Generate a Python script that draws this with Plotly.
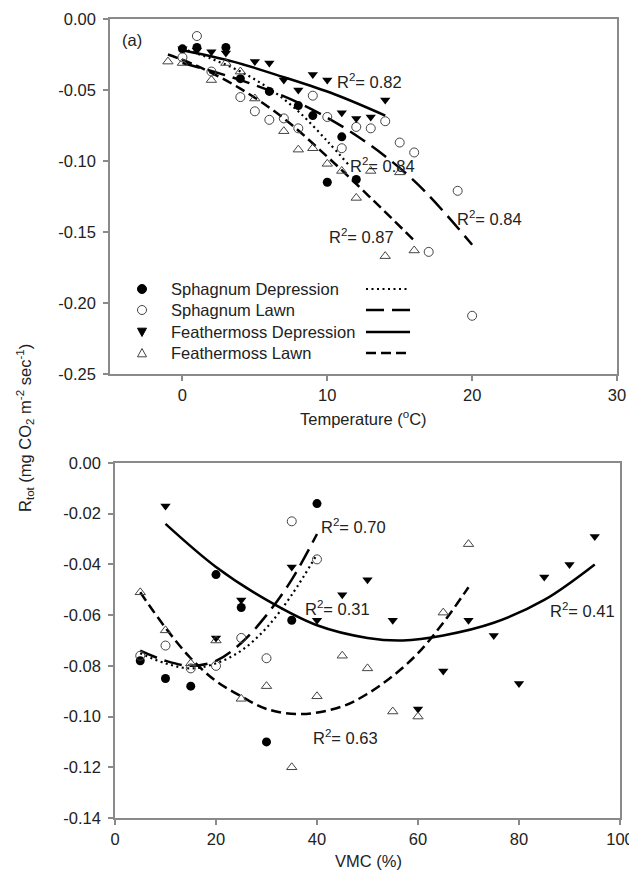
import plotly.graph_objects as go

# page has an 8px default body margin; the figure is sized so it fits the 637x871 window
OFF = 8
W, H = 637 - OFF, 871 - OFF
FONT = "Liberation Sans, Arial, sans-serif"
TXT = "#222222"
AX = "#8a8a8a"
FS = 16.5

# ---------------- Panel (a): Temperature ----------------
sd_T = [0, 1, 3, 4, 6, 8, 9, 10, 11, 12]
sd_R = [-0.021, -0.020, -0.020, -0.042, -0.051, -0.061, -0.068, -0.115, -0.083, -0.113]

sl_T = [0, 1, 2, 4, 5, 6, 7, 8, 9, 10, 11, 12, 13, 14, 15, 16, 17, 19, 20]
sl_R = [-0.027, -0.012, -0.037, -0.055, -0.065, -0.071, -0.070, -0.077, -0.054, -0.069,
        -0.091, -0.076, -0.077, -0.072, -0.087, -0.094, -0.164, -0.121, -0.209]

fd_T = [0, 1, 2, 3, 5, 6, 7, 8, 9, 10, 11, 12, 13, 14]
fd_R = [-0.021, -0.022, -0.023, -0.024, -0.030, -0.031, -0.043, -0.050, -0.039, -0.043,
        -0.066, -0.070, -0.069, -0.057]

fl_T = [-1, 0, 2, 3, 4, 5, 7, 8, 9, 10, 11, 12, 13, 14, 15, 16]
fl_R = [-0.030, -0.031, -0.043, -0.031, -0.037, -0.056, -0.079, -0.092, -0.091, -0.102,
        -0.107, -0.126, -0.107, -0.167, -0.108, -0.163]

# fitted curves
sd_fit_T = [0, 2, 4, 6, 8, 10, 11.5]
sd_fit_R = [-0.021, -0.028, -0.037, -0.049, -0.065, -0.086, -0.103]
sl_fit_T = [0, 4, 8, 12, 16, 20]
sl_fit_R = [-0.031, -0.043, -0.059, -0.082, -0.114, -0.159]
fd_fit_T = [0, 3.5, 7, 10.5, 14]
fd_fit_R = [-0.022, -0.030, -0.041, -0.053, -0.068]
fl_fit_T = [-1, 1, 4, 7, 10, 13, 16]
fl_fit_R = [-0.025, -0.033, -0.049, -0.070, -0.097, -0.126, -0.156]

r2_top_text = ["R<sup>2</sup>= 0.82", "R<sup>2</sup>= 0.84", "R<sup>2</sup>= 0.84", "R<sup>2</sup>= 0.87"]
r2_top_x = [10.5, 11.4, 18.8, 10.0]
r2_top_y = [-0.044, -0.103, -0.140, -0.153]

# ---------------- Panel (b): VMC ----------------
sd_V = [5, 10, 15, 20, 25, 30, 35, 40]
sd_RV = [-0.078, -0.085, -0.088, -0.044, -0.057, -0.110, -0.062, -0.016]
sl_V = [5, 10, 15, 20, 25, 30, 35, 40]
sl_RV = [-0.076, -0.072, -0.081, -0.080, -0.069, -0.077, -0.023, -0.038]
fd_V = [10, 20, 25, 35, 40, 45, 50, 55, 60, 65, 70, 75, 80, 85, 90, 95]
fd_RV = [-0.017, -0.069, -0.054, -0.041, -0.062, -0.052, -0.046, -0.062, -0.097, -0.082,
         -0.062, -0.068, -0.087, -0.045, -0.040, -0.029]
fl_V = [5, 10, 15, 20, 25, 30, 35, 40, 45, 50, 55, 60, 65, 70]
fl_RV = [-0.051, -0.066, -0.079, -0.070, -0.093, -0.088, -0.120, -0.092, -0.076, -0.081,
         -0.098, -0.100, -0.059, -0.032]

sd_fit_V = [5, 10, 15, 20, 25, 30, 35, 40]
sd_fit_RV = [-0.075, -0.079, -0.081, -0.079, -0.074, -0.065, -0.052, -0.036]
sl_fit_V = [5, 10, 15, 20, 25, 30, 35, 40]
sl_fit_RV = [-0.074, -0.078, -0.080, -0.078, -0.071, -0.060, -0.046, -0.028]
fd_fit_V = [10, 20, 30, 40, 50, 57, 65, 75, 85, 95]
fd_fit_RV = [-0.024, -0.041, -0.054, -0.064, -0.069, -0.070, -0.068, -0.063, -0.054, -0.040]
fl_fit_V = [5, 10, 15, 20, 25, 30, 37, 45, 50, 55, 60, 65, 70]
fl_fit_RV = [-0.051, -0.065, -0.077, -0.086, -0.092, -0.097, -0.099, -0.096, -0.091,
             -0.084, -0.075, -0.063, -0.049]

r2_bot_text = ["R<sup>2</sup>= 0.70", "R<sup>2</sup>= 0.31", "R<sup>2</sup>= 0.41", "R<sup>2</sup>= 0.63"]
r2_bot_x = [40.3, 37.3, 85.8, 38.9]
r2_bot_y = [-0.025, -0.057, -0.058, -0.108]

# ticks
top_xticks = [0, 10, 20, 30]
top_yticks = [0, -0.05, -0.10, -0.15, -0.20, -0.25]
top_yticklabels = ["0.00", "-0.05", "-0.10", "-0.15", "-0.20", "-0.25"]
bot_xticks = [0, 20, 40, 60, 80, 100]
bot_yticks = [0, -0.02, -0.04, -0.06, -0.08, -0.10, -0.12, -0.14]
bot_yticklabels = ["0.00", "-0.02", "-0.04", "-0.06", "-0.08", "-0.10", "-0.12", "-0.14"]

legend_names = ["Sphagnum Depression", "Sphagnum Lawn", "Feathermoss Depression", "Feathermoss Lawn"]

# styles
MS = 9
styles = {
    "sd": dict(symbol="circle", color="black", line=dict(width=0)),
    "sl": dict(symbol="circle-open", color="#444444", line=dict(width=1)),
    "fd": dict(symbol="triangle-down", color="black", line=dict(width=0)),
    "fl": dict(symbol="triangle-up-open", color="#444444", line=dict(width=1)),
}
dashes = {"sd": "2px,3.5px", "sl": "18px,8px", "fd": "solid", "fl": "10px,5px"}
LW = 2.5

fig = go.Figure()

def add_panel(xa, ya, series, fits):
    for key, (fx, fy) in fits.items():
        fig.add_trace(go.Scatter(x=fx, y=fy, mode="lines", xaxis=xa, yaxis=ya,
                                 line=dict(color="black", width=LW if key != "sd" else 2.2,
                                           dash=dashes[key], shape="spline"),
                                 showlegend=False, hoverinfo="skip"))
    for key, (sx, sy) in series.items():
        st = styles[key]
        fig.add_trace(go.Scatter(x=sx, y=sy, mode="markers", xaxis=xa, yaxis=ya,
                                 marker=dict(symbol=st["symbol"], size=MS, color=st["color"],
                                             line=st["line"]),
                                 showlegend=False))

add_panel("x", "y",
          {"sd": (sd_T, sd_R), "sl": (sl_T, sl_R), "fd": (fd_T, fd_R), "fl": (fl_T, fl_R)},
          {"sd": (sd_fit_T, sd_fit_R), "sl": (sl_fit_T, sl_fit_R),
           "fd": (fd_fit_T, fd_fit_R), "fl": (fl_fit_T, fl_fit_R)})
add_panel("x2", "y2",
          {"sd": (sd_V, sd_RV), "sl": (sl_V, sl_RV), "fd": (fd_V, fd_RV), "fl": (fl_V, fl_RV)},
          {"sd": (sd_fit_V, sd_fit_RV), "sl": (sl_fit_V, sl_fit_RV),
           "fd": (fd_fit_V, fd_fit_RV), "fl": (fl_fit_V, fl_fit_RV)})

def px(x):
    # page pixel -> paper fraction
    return (x - OFF) / W

def py(y):
    return 1 - (y - OFF) / H

axis_common = dict(showline=True, linecolor=AX, linewidth=1.5, mirror=True,
                   ticks="outside", ticklen=5, tickwidth=1.5, tickcolor=AX,
                   showgrid=False, zeroline=False, automargin=False,
                   tickfont=dict(family=FONT, size=FS, color=TXT))

fig.update_layout(
    width=W, height=H,
    margin=dict(l=0, r=0, t=0, b=0),
    paper_bgcolor="white", plot_bgcolor="white",
    template="none",
    showlegend=False,
    font=dict(family=FONT, size=FS, color=TXT),
    xaxis=dict(domain=[px(110), px(617)], range=[-5, 30], anchor="y",
               tickmode="array", tickvals=top_xticks, **axis_common),
    yaxis=dict(domain=[py(374), py(19)], range=[-0.25, 0], anchor="x",
               tickmode="array", tickvals=top_yticks, ticktext=top_yticklabels,
               ticklabelstandoff=4, **axis_common),
    xaxis2=dict(domain=[px(115), px(620)], range=[0, 100], anchor="y2",
                tickmode="array", tickvals=bot_xticks, **axis_common),
    yaxis2=dict(domain=[py(818), py(463)], range=[-0.14, 0], anchor="x2",
                tickmode="array", tickvals=bot_yticks, ticktext=bot_yticklabels,
                ticklabelstandoff=4, **axis_common),
)

annotations = []
for t, x, y in zip(r2_top_text, r2_top_x, r2_top_y):
    annotations.append(dict(text=t, x=x, y=y, xref="x", yref="y", xanchor="left",
                            yanchor="middle", showarrow=False,
                            font=dict(family=FONT, size=FS, color=TXT)))
for t, x, y in zip(r2_bot_text, r2_bot_x, r2_bot_y):
    annotations.append(dict(text=t, x=x, y=y, xref="x2", yref="y2", xanchor="left",
                            yanchor="middle", showarrow=False,
                            font=dict(family=FONT, size=FS, color=TXT)))
# panel label
annotations.append(dict(text="(a)", x=px(120), y=py(40), xref="paper", yref="paper",
                        xanchor="left", yanchor="middle", showarrow=False,
                        font=dict(family=FONT, size=FS, color=TXT)))
# axis titles
annotations.append(dict(text="Temperature (<sup>o</sup>C)", x=px(363), y=py(418),
                        xref="paper", yref="paper", xanchor="center", yanchor="middle",
                        showarrow=False, font=dict(family=FONT, size=FS, color=TXT)))
annotations.append(dict(text="VMC (%)", x=px(368), y=py(861),
                        xref="paper", yref="paper", xanchor="center", yanchor="middle",
                        showarrow=False, font=dict(family=FONT, size=FS, color=TXT)))
annotations.append(dict(text="R<sub>tot</sub> (mg CO<sub>2</sub> m<sup>-2</sup> sec<sup>-1</sup>)",
                        x=px(25), y=py(428), xref="paper", yref="paper",
                        xanchor="center", yanchor="middle", textangle=-90,
                        showarrow=False, font=dict(family=FONT, size=FS, color=TXT)))

# legend (drawn manually to mimic the original layout)
rows = [289, 310, 332, 353]
keys = ["sd", "sl", "fd", "fl"]
shapes = []
for name, key, ry in zip(legend_names, keys, rows):
    annotations.append(dict(text=name, x=px(169), y=py(ry), xref="paper", yref="paper",
                            xanchor="left", yanchor="middle", showarrow=False,
                            font=dict(family=FONT, size=FS, color=TXT)))
    shapes.append(dict(type="line", xref="paper", yref="paper",
                       x0=px(366), x1=px(410), y0=py(ry), y1=py(ry),
                       line=dict(color="black", width=LW if key != "sd" else 2.2,
                                 dash=dashes[key])))
    cx, r = 142, 4.5
    if key in ("sd", "sl"):
        shapes.append(dict(type="circle", xref="paper", yref="paper",
                           x0=px(cx - r), x1=px(cx + r), y0=py(ry + r), y1=py(ry - r),
                           fillcolor="black" if key == "sd" else "white",
                           line=dict(color="black" if key == "sd" else "#444444", width=1)))
    else:
        if key == "fd":
            pts = [(cx - r, ry - r * 0.85), (cx + r, ry - r * 0.85), (cx, ry + r)]
        else:
            pts = [(cx - r, ry + r * 0.85), (cx + r, ry + r * 0.85), (cx, ry - r)]
        path = "M {} {} L {} {} L {} {} Z".format(*[v for p in pts for v in (px(p[0]), py(p[1]))])
        shapes.append(dict(type="path", xref="paper", yref="paper", path=path,
                           fillcolor="black" if key == "fd" else "white",
                           line=dict(color="black" if key == "fd" else "#444444", width=1)))

fig.update_layout(annotations=annotations, shapes=shapes)
fig.write_html("out.html")
